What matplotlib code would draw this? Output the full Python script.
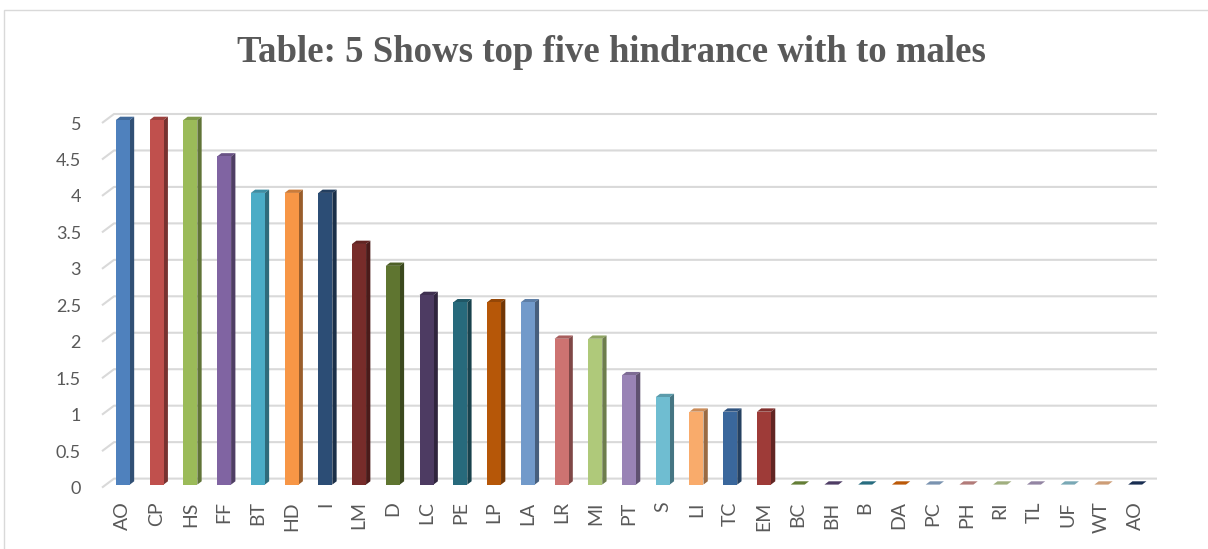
import matplotlib
matplotlib.use("Agg")
import matplotlib.pyplot as plt
import matplotlib.colors as mcolors
from matplotlib.patches import Polygon, Rectangle
from matplotlib.transforms import ScaledTranslation
import numpy as np

# ---- data -------------------------------------------------------------
categories = ["AO", "CP", "HS", "FF", "BT", "HD", "I", "LM", "D", "LC",
              "PE", "LP", "LA", "LR", "MI", "PT", "S", "LI", "TC", "EM",
              "BC", "BH", "B", "DA", "PC", "PH", "RI", "TL", "UF", "WT", "AO"]
values = [5, 5, 5, 4.5, 4, 4, 4, 3.3, 3, 2.6,
          2.5, 2.5, 2.5, 2, 2, 1.5, 1.2, 1, 1, 1,
          0, 0, 0, 0, 0, 0, 0, 0, 0, 0, 0]
bar_colors = ["#4F81BD", "#C0504D", "#9BBB59", "#8064A2", "#4BACC6", "#F79646",
              "#2C4D75", "#772C2A", "#5F7530", "#4D3B62", "#276A7C", "#B65708",
              "#729ACA", "#CD7371", "#AFC97A", "#9983B5", "#6FBDD1", "#F9AB6B",
              "#3A679C", "#9E3B38", "#7A9A42", "#604A7B", "#31859C", "#E46C0A",
              "#95B3D7", "#D99694", "#C3D69B", "#B3A2C7", "#93CDDD", "#FAC090",
              "#1F3864"]
y_ticks = [0, 0.5, 1, 1.5, 2, 2.5, 3, 3.5, 4, 4.5, 5]
y_tick_labels = ["0", "0.5", "1", "1.5", "2", "2.5", "3", "3.5", "4", "4.5", "5"]
title = "Table: 5 Shows top five hindrance with to males"

# ---- figure & axes ----------------------------------------------------
W, H = 1208, 549
fig = plt.figure(figsize=(W / 100, H / 100), dpi=100)
fig.patch.set_facecolor("white")

ax_left, ax_right, ax_bottom, ax_top = 106, 1152, 484.6, 120
ax = fig.add_axes([ax_left / W, 1 - ax_bottom / H,
                   (ax_right - ax_left) / W, (ax_bottom - ax_top) / H])
n = len(categories)
x = np.arange(n)
ax.set_xlim(-0.5, n - 0.5)
ax.set_ylim(0, 5)
for s in ax.spines.values():
    s.set_visible(False)
ax.patch.set_visible(False)

# pixel -> data conversion for the pseudo-3D depth
p0 = ax.transData.transform((0, 0))
p1 = ax.transData.transform((1, 1))
sx, sy = p1 - p0


def px(dx=0.0, dy=0.0):
    return dx / sx, dy / sy


grid_color = "#D9D9D9"
text_color = "#595959"

# back-wall gridlines with a short slanted side-wall segment
wall_dx, wall_dy = px(8, 6)
start_dx, start_dy = px(-4, -3)
end_dx, _ = px(5, 0)
for v in y_ticks:
    xs = [-0.5 + start_dx, -0.5 + wall_dx, n - 0.5 + end_dx]
    ys = [v + start_dy, v + wall_dy, v + wall_dy]
    ax.plot(xs, ys, color=grid_color, lw=1.5, zorder=1,
            solid_capstyle="butt", clip_on=False)

# pseudo-3D bars: front face, side face and top face
bw = 0.415
ddx, ddy = px(4.3, 3.3)


def shade(c, f):
    r, g, b = mcolors.to_rgb(c)
    return (r * f, g * f, b * f)


for xi, v, c in zip(x, values, bar_colors):
    l, r = xi - bw / 2, xi + bw / 2
    top = Polygon([(l, v), (r, v), (r + ddx, v + ddy), (l + ddx, v + ddy)],
                  closed=True, facecolor=shade(c, 0.82), edgecolor="none",
                  zorder=3, clip_on=False)
    ax.add_patch(top)
    if v > 0:
        side = Polygon([(r, 0), (r + ddx, ddy), (r + ddx, v + ddy), (r, v)],
                       closed=True, facecolor=shade(c, 0.62), edgecolor="none",
                       zorder=3, clip_on=False)
        ax.add_patch(side)
    ax.bar(xi, v, width=bw, color=c, edgecolor="none", zorder=4, clip_on=False)

# ---- ticks ------------------------------------------------------------
label_font = ["Lato", "DejaVu Sans"]
ax.set_xticks(x)
ax.set_xticklabels(categories, rotation=90, fontsize=14, color=text_color,
                   family=label_font)
ax.set_yticks(y_ticks)
ax.set_yticklabels(y_tick_labels, fontsize=13, color=text_color,
                   family=label_font)
ax.tick_params(axis="x", length=0, pad=12)
ax.tick_params(axis="y", length=0, pad=18)
shift = ScaledTranslation(0, -3 / 100, fig.dpi_scale_trans)
for lab in ax.get_yticklabels():
    lab.set_transform(lab.get_transform() + shift)

# ---- title & chart border ---------------------------------------------
fig.text(611 / W, 1 - 53 / H, title, ha="center", va="center",
         fontsize=26.5, fontweight="bold", color=text_color,
         family=["Liberation Serif", "DejaVu Serif"])

border = Rectangle((4 / W, -0.05), 1.2, 1 - 10 / H + 0.05,
                   transform=fig.transFigure, fill=False,
                   edgecolor=grid_color, lw=1.0, clip_on=False)
fig.patches.append(border)

fig.savefig("out.png", dpi=100, facecolor="white")
